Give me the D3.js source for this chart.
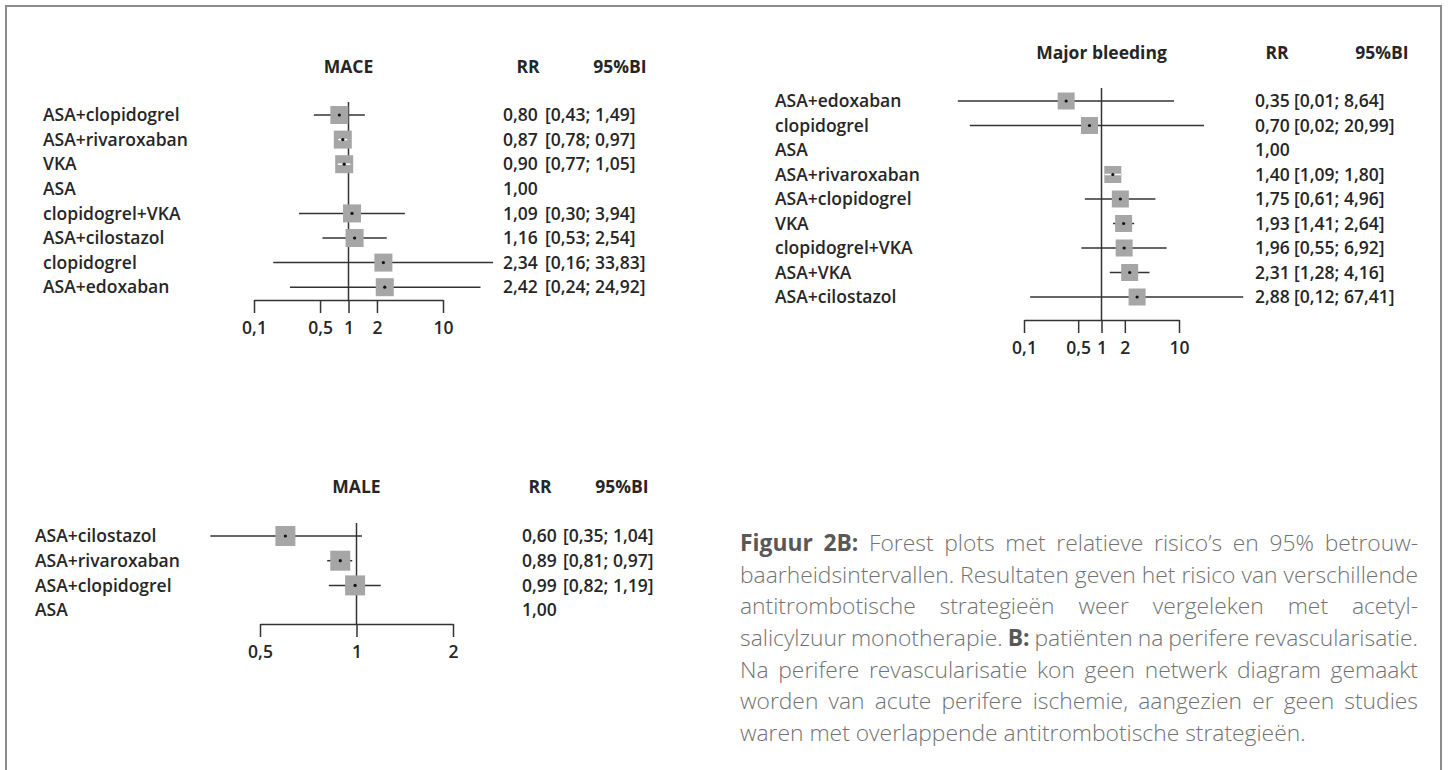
<!DOCTYPE html>
<html>
<head>
<meta charset="utf-8">
<script src="https://cdn.jsdelivr.net/npm/d3@7"></script>
<style>
  body { margin: 0; background: #fff; }
  svg text { font-family: "Open Sans", sans-serif; }
</style>
</head>
<body>
<svg id="chart" width="1448" height="770"></svg>
<script>

// MACE
var maceNames = ["ASA+clopidogrel", "ASA+rivaroxaban", "VKA", "ASA", "clopidogrel+VKA", "ASA+cilostazol", "clopidogrel", "ASA+edoxaban"];
var maceRR = [0.80, 0.87, 0.90, 1.00, 1.09, 1.16, 2.34, 2.42];
var maceLo = [0.43, 0.78, 0.77, null, 0.30, 0.53, 0.16, 0.24];
var maceHi = [1.49, 0.97, 1.05, null, 3.94, 2.54, 33.83, 24.92];
var maceTicks = [0.1, 0.5, 1, 2, 10];

// Major bleeding
var bleedNames = ["ASA+edoxaban", "clopidogrel", "ASA", "ASA+rivaroxaban", "ASA+clopidogrel", "VKA", "clopidogrel+VKA", "ASA+VKA", "ASA+cilostazol"];
var bleedRR = [0.35, 0.70, 1.00, 1.40, 1.75, 1.93, 1.96, 2.31, 2.88];
var bleedLo = [0.01, 0.02, null, 1.09, 0.61, 1.41, 0.55, 1.28, 0.12];
var bleedHi = [8.64, 20.99, null, 1.80, 4.96, 2.64, 6.92, 4.16, 67.41];
var bleedTicks = [0.1, 0.5, 1, 2, 10];

// MALE
var maleNames = ["ASA+cilostazol", "ASA+rivaroxaban", "ASA+clopidogrel", "ASA"];
var maleRR = [0.60, 0.89, 0.99, 1.00];
var maleLo = [0.35, 0.81, 0.82, null];
var maleHi = [1.04, 0.97, 1.19, null];
var maleTicks = [0.5, 1, 2];

var captionLines = [
    [["Figuur 2B:", true], ["Forest plots met relatieve risico’s en 95% betrouw-", false]],
    [["baarheidsintervallen. Resultaten geven het risico van verschillende", false]],
    [["antitrombotische strategieën weer vergeleken met acetyl-", false]],
    [["salicylzuur monotherapie.", false], ["B:", true], ["patiënten na perifere revascularisatie.", false]],
    [["Na perifere revascularisatie kon geen netwerk diagram gemaakt", false]],
    [["worden van acute perifere ischemie, aangezien er geen studies", false]],
    [["waren met overlappende antitrombotische strategieën.", false]]
];

var svg = d3.select("#chart");
var ink = "#262626";
var fs = "17.5px";

// frame round the figure
svg.append("path")
    .attr("d", "M6,770V6H1441V770")
    .attr("fill", "none")
    .attr("stroke", "#8c8c8c")
    .attr("stroke-width", 2);

var fmt = function(v) {
    return d3.format(".2f")(v).replace(".", ",");
};

function forest(p) {
    var x = d3.scaleLog().domain(p.domain).range(p.range);
    var y = function(i) { return p.top + i * p.step; };
    var g = svg.append("g");
    var rows = p.names.map(function(n, i) {
        return { name: n, rr: p.rr[i], lo: p.lo[i], hi: p.hi[i], i: i };
    });
    var withCI = rows.filter(function(d) { return d.lo != null; });

    // line of no effect
    g.append("line")
        .attr("x1", x(1)).attr("x2", x(1))
        .attr("y1", p.refTop).attr("y2", p.axisY)
        .attr("stroke", "#333").attr("stroke-width", 1.5);

    g.selectAll(".ci")
        .data(withCI)
        .join("line")
        .attr("class", "ci")
        .attr("x1", function(d) { return x(Math.max(d.lo, p.minShown || 0)); })
        .attr("x2", function(d) { return x(d.hi); })
        .attr("y1", function(d) { return y(d.i); })
        .attr("y2", function(d) { return y(d.i); })
        .attr("stroke", "#333")
        .attr("stroke-width", 1.5);

    g.selectAll(".box")
        .data(withCI)
        .join("rect")
        .attr("class", "box")
        .attr("x", function(d) { return x(d.rr) - p.box / 2; })
        .attr("y", function(d) { return y(d.i) - p.box / 2; })
        .attr("width", p.box)
        .attr("height", p.box)
        .attr("fill", "#a6a6a6");

    // interval narrower than the box: drawn white inside it
    g.selectAll(".inner")
        .data(withCI.filter(function(d) { return x(d.hi) - x(d.lo) < p.box; }))
        .join("line")
        .attr("class", "inner")
        .attr("x1", function(d) { return x(d.lo); })
        .attr("x2", function(d) { return x(d.hi); })
        .attr("y1", function(d) { return y(d.i); })
        .attr("y2", function(d) { return y(d.i); })
        .attr("stroke", "#fff")
        .attr("stroke-width", 1.5);

    g.selectAll(".dot")
        .data(withCI)
        .join("circle")
        .attr("class", "dot")
        .attr("cx", function(d) { return x(d.rr); })
        .attr("cy", function(d) { return y(d.i); })
        .attr("r", 1.6)
        .attr("fill", "#111");

    var axis = d3.axisBottom(x)
        .tickValues(p.ticks)
        .tickFormat(function(d) { return String(d).replace(".", ","); })
        .tickSize(13)
        .tickSizeOuter(0)
        .tickPadding(9);

    var ax = g.append("g")
        .attr("transform", "translate(0," + p.axisY + ")")
        .call(axis);
    ax.selectAll("path, line").attr("stroke", "#333").attr("stroke-width", 1.5);
    ax.selectAll("text")
        .attr("fill", ink)
        .style("font-size", fs)
        .style("font-weight", 600);

    var txt = function(sel) {
        return sel.attr("fill", ink).style("font-size", fs).style("font-weight", 600);
    };

    txt(g.selectAll(".name").data(rows).join("text"))
        .attr("class", "name")
        .attr("x", p.labelX)
        .attr("y", function(d) { return y(d.i); })
        .attr("dy", "0.35em")
        .text(function(d) { return d.name; });

    txt(g.selectAll(".rr").data(rows).join("text"))
        .attr("class", "rr")
        .attr("x", p.rrX)
        .attr("y", function(d) { return y(d.i); })
        .attr("dy", "0.35em")
        .text(function(d) { return fmt(d.rr); });

    txt(g.selectAll(".bi").data(withCI).join("text"))
        .attr("class", "bi")
        .attr("x", p.ciX)
        .attr("y", function(d) { return y(d.i); })
        .attr("dy", "0.35em")
        .text(function(d) { return "[" + fmt(d.lo) + "; " + fmt(d.hi) + "]"; });

    // headers
    [[p.title, x(1)], ["RR", p.rrHeadX], ["95%BI", p.ciHeadX]].forEach(function(h) {
        g.append("text")
            .attr("x", h[1])
            .attr("y", p.titleY)
            .attr("dy", "0.35em")
            .attr("text-anchor", "middle")
            .attr("fill", ink)
            .style("font-size", fs)
            .style("font-weight", 700)
            .text(h[0]);
    });
}

forest({
    title: "MACE", names: maceNames, rr: maceRR, lo: maceLo, hi: maceHi, ticks: maceTicks,
    domain: [0.1, 10], range: [254, 443], top: 115, step: 24.6, box: 18,
    labelX: 43, rrX: 503, ciX: 545, rrHeadX: 528, ciHeadX: 620,
    titleY: 67, refTop: 102, axisY: 300
});

forest({
    title: "Major bleeding", names: bleedNames, rr: bleedRR, lo: bleedLo, hi: bleedHi, ticks: bleedTicks,
    domain: [0.1, 10], range: [1024, 1179], top: 101, step: 24.5, box: 17, minShown: 0.014,
    labelX: 775, rrX: 1255, ciX: 1294, rrHeadX: 1277, ciHeadX: 1382,
    titleY: 53, refTop: 88, axisY: 320
});

forest({
    title: "MALE", names: maleNames, rr: maleRR, lo: maleLo, hi: maleHi, ticks: maleTicks,
    domain: [0.5, 2], range: [260, 453], top: 536, step: 24.7, box: 20,
    labelX: 35, rrX: 522, ciX: 563, rrHeadX: 540, ciHeadX: 622,
    titleY: 487, refTop: 523, axisY: 624
});

// caption, justified
var capX = 740, capW = 678, capTop = 543, capStep = 31.7;
var cap = svg.append("g").style("font-family", "Lato, sans-serif");

var probe = cap.append("text").style("font-size", "20px").style("font-weight", 300)
    .text(captionLines[1][0][0]);
var capSize = 20 * capW / probe.node().getComputedTextLength();
probe.remove();
cap.style("font-size", capSize + "px");

captionLines.forEach(function(line, li) {
    var words = [];
    line.forEach(function(seg) {
        seg[0].split(" ").forEach(function(w) { words.push({ t: w, b: seg[1] }); });
    });
    var nodes = words.map(function(w) {
        return cap.append("text")
            .attr("y", capTop + li * capStep)
            .attr("dy", "0.35em")
            .attr("fill", w.b ? "#585858" : "#727272")
            .style("font-weight", w.b ? 700 : 300)
            .text(w.t);
    });
    var widths = nodes.map(function(n) { return n.node().getComputedTextLength(); });
    var last = li === captionLines.length - 1;
    var gap = last ? capSize * 0.26 : (capW - d3.sum(widths)) / (words.length - 1);
    var xx = capX;
    nodes.forEach(function(n, i) {
        n.attr("x", xx);
        xx += widths[i] + gap;
    });
});

</script>
</body>
</html>
